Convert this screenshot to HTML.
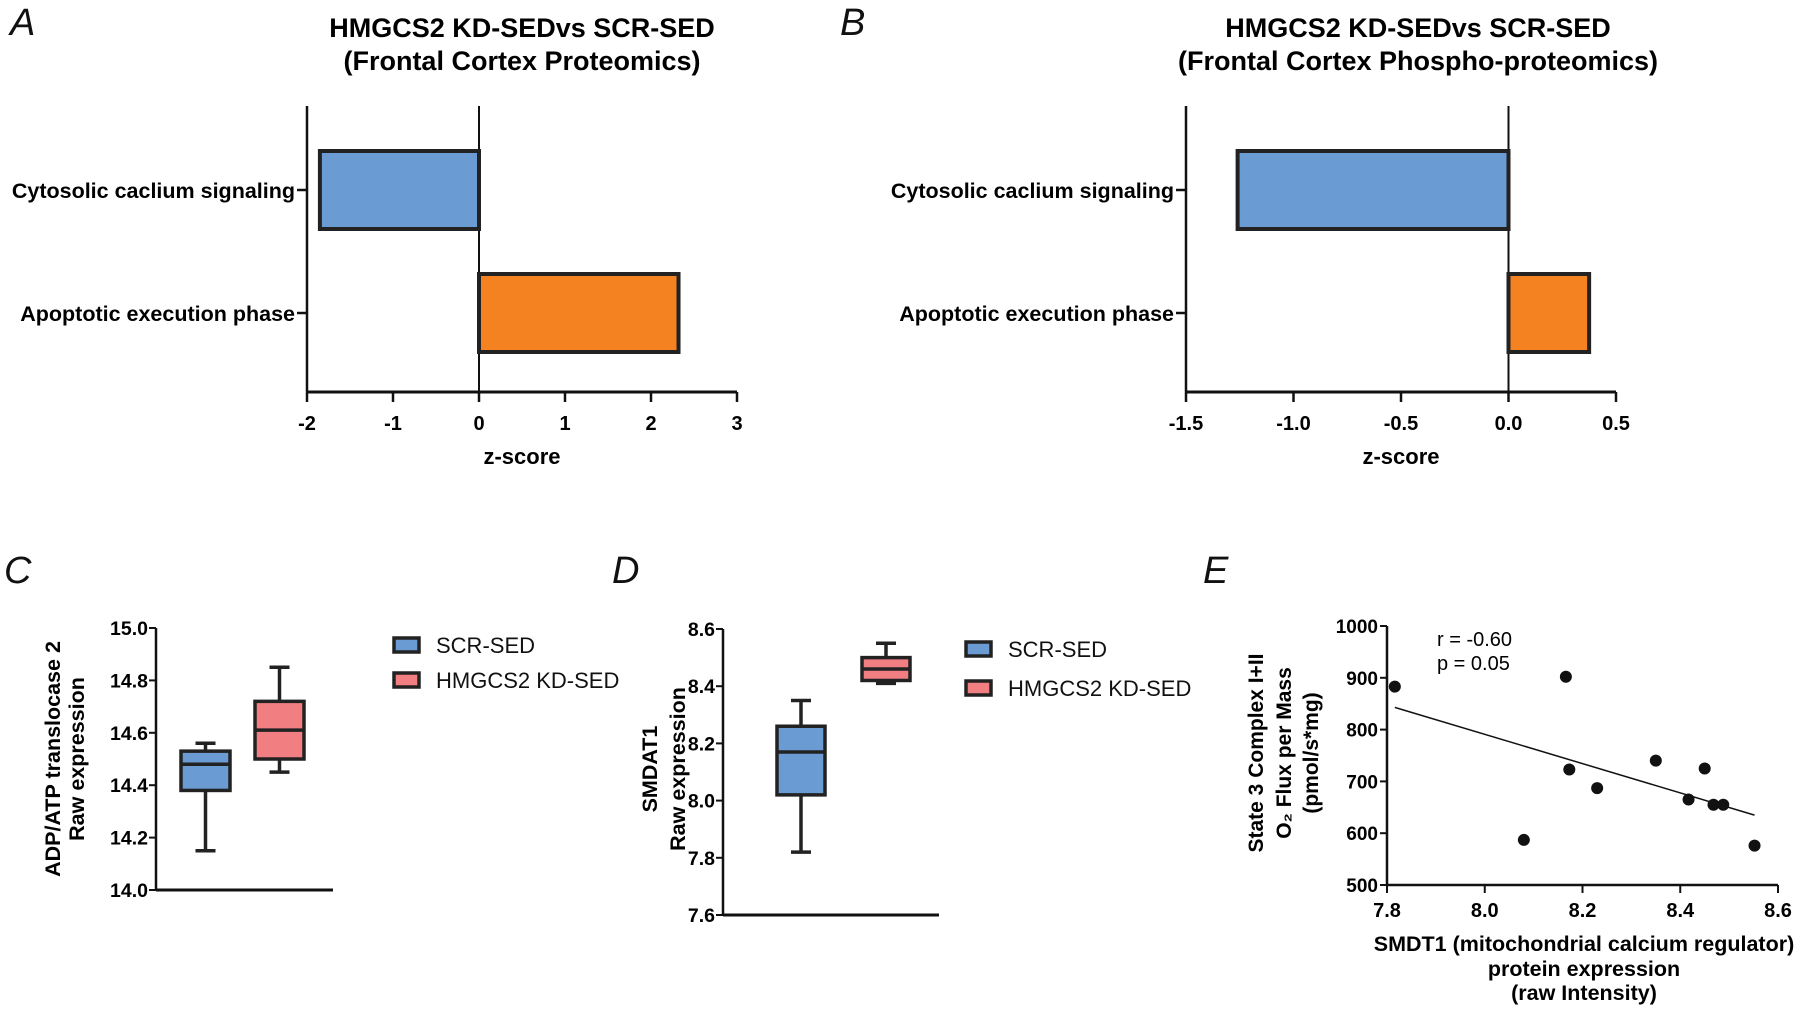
<!DOCTYPE html>
<html><head><meta charset="utf-8"><style>
html,body{margin:0;padding:0;background:#fff;}
svg{display:block;font-family:"Liberation Sans",Arial,sans-serif;}
</style></head><body>
<svg id="fig" width="1800" height="1009" viewBox="0 0 1800 1009"></svg>
<script>
// ---- Panel A data ----
const catsA = ["Cytosolic caclium signaling", "Apoptotic execution phase"];
const valsA = [-1.85, 2.32];
const ticksA = [-2, -1, 0, 1, 2, 3];
// ---- Panel B data ----
const catsB = ["Cytosolic caclium signaling", "Apoptotic execution phase"];
const valsB = [-1.26, 0.375];
const ticksB = [-1.5, -1.0, -0.5, 0.0, 0.5];
// ---- Panel C data (min, q1, median, q3, max) ----
const groupsC = ["SCR-SED", "HMGCS2 KD-SED"];
const boxC = [[14.15, 14.38, 14.48, 14.53, 14.56], [14.45, 14.50, 14.61, 14.72, 14.85]];
const ticksC = [14.0, 14.2, 14.4, 14.6, 14.8, 15.0];
// ---- Panel D data ----
const groupsD = ["SCR-SED", "HMGCS2 KD-SED"];
const boxD = [[7.82, 8.02, 8.17, 8.26, 8.35], [8.41, 8.42, 8.46, 8.50, 8.55]];
const ticksD = [7.6, 7.8, 8.0, 8.2, 8.4, 8.6];
// ---- Panel E data ----
const xsE = [7.816, 8.166, 8.173, 8.23, 8.08, 8.35, 8.45, 8.417, 8.468, 8.488, 8.552];
const ysE = [883, 902, 723, 687, 587, 740, 725, 665, 655, 655, 576];
const xticksE = [7.8, 8.0, 8.2, 8.4, 8.6];
const yticksE = [500, 600, 700, 800, 900, 1000];

const NS = "http://www.w3.org/2000/svg";
const svg = document.getElementById('fig');
function mk(tag, attrs, parent) {
  const e = document.createElementNS(NS, tag);
  for (const k in attrs) e.setAttribute(k, attrs[k]);
  (parent || svg).appendChild(e);
  return e;
}
function txt(s, attrs, parent) { const t = mk('text', attrs, parent); t.textContent = s; return t; }
const BLUE = "#6a9bd2", ORANGE = "#f58220", PINK = "#f17f82";

function panelLetter(s, x, y) {
  const t = txt(s, {x: x, y: y, 'font-size': 38, 'font-style': 'italic', fill: '#111'});
  
  
}
panelLetter("A", 10, 35); panelLetter("B", 840, 35);
panelLetter("C", 4, 583); panelLetter("D", 612, 583); panelLetter("E", 1203, 583);

// ---------- horizontal bar panels ----------
function barPanel(id, cats, vals, ticks, x0px, x1px, title1, title2, titleX, fmt, colors) {
  const g = mk('g', {});
  
  
  const vmin = ticks[0], vmax = ticks[ticks.length - 1];
  const sx = v => x0px + (v - vmin) / (vmax - vmin) * (x1px - x0px);
  const axisY = 392, top = 106;
  const catY = [190, 313];
  let t = txt(title1, {x: titleX, y: 37, 'text-anchor': 'middle', 'font-size': 27, 'font-weight': 'bold'}, g);
   
  t = txt(title2, {x: titleX, y: 70, 'text-anchor': 'middle', 'font-size': 27, 'font-weight': 'bold'}, g);
   
  let l = mk('line', {x1: x0px, y1: top, x2: x0px, y2: axisY, stroke: '#111', 'stroke-width': 2.5}, g);
   
  l = mk('line', {x1: x0px, y1: axisY, x2: x1px, y2: axisY, stroke: '#111', 'stroke-width': 3}, g);
   
  l = mk('line', {x1: sx(0), y1: top, x2: sx(0), y2: axisY, stroke: '#111', 'stroke-width': 2}, g);
   
  ticks.forEach(v => {
    const tk = mk('line', {x1: sx(v), y1: axisY, x2: sx(v), y2: axisY + 10, stroke: '#111', 'stroke-width': 2.5}, g);
     
    const tl = txt(fmt(v), {x: sx(v), y: 430, 'text-anchor': 'middle', 'font-size': 20, 'font-weight': 'bold'}, g);
     
  });
  t = txt('z-score', {x: (x0px + x1px) / 2, y: 464, 'text-anchor': 'middle', 'font-size': 22, 'font-weight': 'bold'}, g);
   
  cats.forEach((c, i) => {
    const cy = catY[i];
    const tk = mk('line', {x1: x0px - 10, y1: cy, x2: x0px, y2: cy, stroke: '#111', 'stroke-width': 2.5}, g);
     
    const cl = txt(c, {x: x0px - 12, y: cy + 8, 'text-anchor': 'end', 'font-size': 21.5, 'font-weight': 'bold'}, g);
     
    const v = vals[i];
    const xa = Math.min(sx(0), sx(v)), xb = Math.max(sx(0), sx(v));
    const r = mk('rect', {x: xa, y: cy - 39, width: xb - xa, height: 78, fill: colors[i], stroke: '#222', 'stroke-width': 4}, g);
    
    
  });
}
barPanel('a', catsA, valsA, ticksA, 307, 737, 'HMGCS2 KD-SEDvs SCR-SED', '(Frontal Cortex Proteomics)', 522, v => String(v), [BLUE, ORANGE]);
barPanel('b', catsB, valsB, ticksB, 1186, 1616, 'HMGCS2 KD-SEDvs SCR-SED', '(Frontal Cortex Phospho-proteomics)', 1418, v => v.toFixed(1), [BLUE, ORANGE]);

// ---------- box plot panels ----------
function boxPanel(id, groups, boxes, ticks, axX, yTop, yBot, axEnd, boxX, boxW, ylab1, ylab2, labX1, labX2, labCy, legX, legY) {
  const g = mk('g', {});
  
  
  const vmin = ticks[0], vmax = ticks[ticks.length - 1];
  const sy = v => yBot - (v - vmin) / (vmax - vmin) * (yBot - yTop);
  let l = mk('line', {x1: axX, y1: yTop, x2: axX, y2: yBot, stroke: '#111', 'stroke-width': 2.5}, g);
   
  l = mk('line', {x1: axX, y1: yBot, x2: axEnd, y2: yBot, stroke: '#111', 'stroke-width': 3}, g);
   
  ticks.forEach(v => {
    const tk = mk('line', {x1: axX - 7, y1: sy(v), x2: axX, y2: sy(v), stroke: '#111', 'stroke-width': 2}, g);
     
    const tl = txt(v.toFixed(1), {x: axX - 8, y: sy(v) + 7, 'text-anchor': 'end', 'font-size': 19.5, 'font-weight': 'bold'}, g);
     
  });
  let t = txt(ylab1, {x: 0, y: 0, 'text-anchor': 'middle', 'font-size': 21.5, 'font-weight': 'bold', transform: `translate(${labX1},${labCy}) rotate(-90)`}, g);
   
  t = txt(ylab2, {x: 0, y: 0, 'text-anchor': 'middle', 'font-size': 21.5, 'font-weight': 'bold', transform: `translate(${labX2},${labCy}) rotate(-90)`}, g);
   
  const cols = [BLUE, PINK];
  boxes.forEach((b, i) => {
    const bx = boxX[i], cx = bx + boxW / 2;
    const bg = mk('g', {}, g);
    
    
    mk('line', {x1: cx, y1: sy(b[0]), x2: cx, y2: sy(b[1]), stroke: '#222', 'stroke-width': 3.5}, bg);
    mk('line', {x1: cx, y1: sy(b[3]), x2: cx, y2: sy(b[4]), stroke: '#222', 'stroke-width': 3.5}, bg);
    mk('line', {x1: cx - 10, y1: sy(b[0]), x2: cx + 10, y2: sy(b[0]), stroke: '#222', 'stroke-width': 3.5}, bg);
    mk('line', {x1: cx - 10, y1: sy(b[4]), x2: cx + 10, y2: sy(b[4]), stroke: '#222', 'stroke-width': 3.5}, bg);
    mk('rect', {x: bx, y: sy(b[3]), width: boxW, height: sy(b[1]) - sy(b[3]), fill: cols[i], stroke: '#222', 'stroke-width': 3.5}, bg);
    mk('line', {x1: bx, y1: sy(b[2]), x2: bx + boxW, y2: sy(b[2]), stroke: '#222', 'stroke-width': 3.5}, bg);
  });
  groups.forEach((gname, i) => {
    const lg = mk('g', {}, g);
    
    
    const ly = legY[i];
    mk('rect', {x: legX, y: ly - 7, width: 25, height: 14, fill: cols[i], stroke: '#222', 'stroke-width': 3.5}, lg);
    txt(gname, {x: legX + 42, y: ly + 8, 'font-size': 22, fill: '#111'}, lg);
  });
}
boxPanel('c', groupsC, boxC, ticksC, 156, 628, 890, 333, [181, 255], 49,
  'ADP/ATP translocase 2', 'Raw expression', 60, 84, 759, 394, [645, 680]);
boxPanel('d', groupsD, boxD, ticksD, 723, 629, 915, 939, [777, 862], 48,
  'SMDAT1', 'Raw expression', 657, 685, 769, 966, [649, 688]);

// ---------- scatter panel E ----------
(function () {
  const g = mk('g', {});
  
  
  const X0 = 1387, X1 = 1778, Y0 = 885, Y1 = 626;
  const sx = v => X0 + (v - xticksE[0]) / (xticksE[xticksE.length - 1] - xticksE[0]) * (X1 - X0);
  const sy = v => Y0 - (v - yticksE[0]) / (yticksE[yticksE.length - 1] - yticksE[0]) * (Y0 - Y1);
  let l = mk('line', {x1: X0, y1: Y1, x2: X0, y2: Y0, stroke: '#111', 'stroke-width': 2.5}, g);
   
  l = mk('line', {x1: X0, y1: Y0, x2: X1, y2: Y0, stroke: '#111', 'stroke-width': 2.5}, g);
   
  yticksE.forEach(v => {
    const tk = mk('line', {x1: X0 - 7, y1: sy(v), x2: X0, y2: sy(v), stroke: '#111', 'stroke-width': 2}, g);
     
    const tl = txt(String(v), {x: X0 - 9, y: sy(v) + 7, 'text-anchor': 'end', 'font-size': 19, 'font-weight': 'bold'}, g);
     
  });
  xticksE.forEach(v => {
    const tk = mk('line', {x1: sx(v), y1: Y0, x2: sx(v), y2: Y0 + 8, stroke: '#111', 'stroke-width': 2}, g);
     
    const tl = txt(v.toFixed(1), {x: sx(v), y: Y0 + 32, 'text-anchor': 'middle', 'font-size': 20, 'font-weight': 'bold'}, g);
     
  });
  // regression line (least squares from the data arrays)
  const n = xsE.length;
  const mx = xsE.reduce((a, b) => a + b, 0) / n, my = ysE.reduce((a, b) => a + b, 0) / n;
  let sxy = 0, sxx = 0;
  for (let i = 0; i < n; i++) { sxy += (xsE[i] - mx) * (ysE[i] - my); sxx += (xsE[i] - mx) ** 2; }
  const slope = sxy / sxx, icpt = my - slope * mx;
  const xa = Math.min(...xsE), xb = Math.max(...xsE);
  l = mk('line', {x1: sx(xa), y1: sy(icpt + slope * xa), x2: sx(xb), y2: sy(icpt + slope * xb), stroke: '#111', 'stroke-width': 1.5}, g);
   
  xsE.forEach((x, i) => {
    const c = mk('circle', {cx: sx(x), cy: sy(ysE[i]), r: 6, fill: '#111'}, g);
    
    
  });
  let t = txt('r = -0.60', {x: 1437, y: 646, 'font-size': 20}, g);
   
  t = txt('p = 0.05', {x: 1437, y: 670, 'font-size': 20}, g);
   
  const ylines = [['State 3 Complex I+II', 1263], ['O₂ Flux per Mass', 1291], ['(pmol/s*mg)', 1318]];
  ylines.forEach((yl, i) => {
    const tt = txt(yl[0], {x: 0, y: 0, 'text-anchor': 'middle', 'font-size': 21, 'font-weight': 'bold', transform: `translate(${yl[1]},753) rotate(-90)`}, g);
     
  });
  const xlines = [['SMDT1 (mitochondrial calcium regulator)', 951], ['protein expression', 976], ['(raw Intensity)', 1000]];
  xlines.forEach((xl, i) => {
    const tt = txt(xl[0], {x: 1584, y: xl[1], 'text-anchor': 'middle', 'font-size': 21.5, 'font-weight': 'bold'}, g);
     
  });
})();
</script>
</body></html>
